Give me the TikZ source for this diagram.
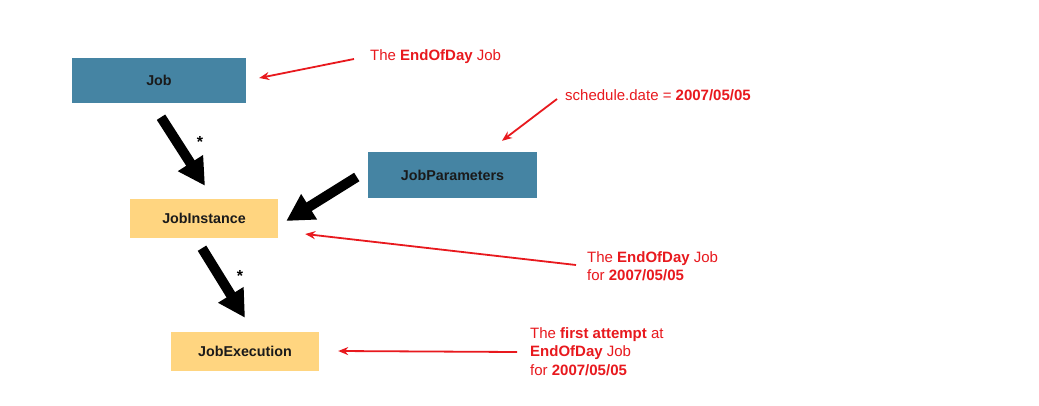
\documentclass[tikz,border=0pt]{standalone}
\usepackage{fontspec}
\setmainfont{Liberation Sans}
\usetikzlibrary{arrows.meta,calc}
\definecolor{jobblue}{HTML}{4584A3}
\definecolor{jobyellow}{HTML}{FFD580}
\definecolor{annred}{HTML}{E8191E}
\definecolor{boxtext}{HTML}{1A1A1A}
\begin{document}
\begin{tikzpicture}[x=1pt,y=-1pt,
  boxbase/.style={inner sep=0pt, text=boxtext, font=\fontsize{14.3}{17}\selectfont\bfseries},
  bluebox/.style={boxbase, fill=jobblue},
  yellowbox/.style={boxbase, fill=jobyellow},
  note/.style={text=annred, font=\fontsize{15}{18.5}\selectfont, inner sep=0pt, align=left},
  bigarrow/.style={line width=10pt, -{Triangle[length=27pt 0 0,width=28pt 0 0]}},
  notearrow/.style={draw=annred, line width=1.8pt, -{Stealth[length=10pt 0 0,width=8pt 0 0]}},
  starlabel/.style={font=\fontsize{16}{16}\selectfont\bfseries, inner sep=0pt}
]
\useasboundingbox (0,0) rectangle (1039,405);
\fill[white] (0,0) rectangle (1039,405);

% boxes
\node[bluebox, minimum width=174pt, minimum height=45pt] (job) at (159,80.5) {Job};
\node[bluebox, minimum width=169pt, minimum height=46pt] (params) at (452.5,175) {JobParameters};
\node[yellowbox, minimum width=148pt, minimum height=39pt] (inst) at (204,218.5) {JobInstance};
\node[yellowbox, minimum width=148pt, minimum height=39pt] (exec) at (245,351.5) {JobExecution};

% annotations
\node[note, anchor=west] (n1) at (370,57) {The \textbf{EndOfDay} Job};
\node[note, anchor=west] (n2) at (565,95) {schedule.date = \textbf{2007/05/05}};
\node[note, anchor=west] (n3) at (587,266) {The \textbf{EndOfDay} Job\\for \textbf{2007/05/05}};
\node[note, anchor=west] (n4) at (530,351.5) {The \textbf{first attempt} at\\\textbf{EndOfDay} Job\\for \textbf{2007/05/05}};

% big black arrows
\coordinate (a1s) at ($(job.south)+(2,14)$);
\coordinate (a1e) at ($(inst.north)+(1,-13)$);
\draw[bigarrow] (a1s) -- (a1e);
\coordinate (a2s) at ($(params.west)+(-11,2)$);
\coordinate (a2e) at ($(inst.east)+(8,2.5)$);
\draw[bigarrow] (a2s) -- (a2e);
\coordinate (a3s) at ($(inst.south)+(-2,10)$);
\coordinate (a3e) at ($(exec.north)+(0,-14)$);
\draw[bigarrow] (a3s) -- (a3e);

\node[starlabel] (s1) at (200,142) {*};
\node[starlabel] (s2) at (240,276) {*};

% red arrows
\draw[notearrow] ($(n1.west)+(-16,2)$) -- ($(job.east)+(13,-2.5)$);
\draw[notearrow] ($(n2.west)+(-8,4)$) -- ($(params.north)+(49.5,-11)$);
\draw[notearrow] ($(n3.west)+(-11,-1)$) -- ($(inst.east)+(27,15.5)$);
\draw[notearrow] ($(n4.west)+(-13,0.5)$) -- ($(exec.east)+(19,-0.5)$);
\end{tikzpicture}
\end{document}
